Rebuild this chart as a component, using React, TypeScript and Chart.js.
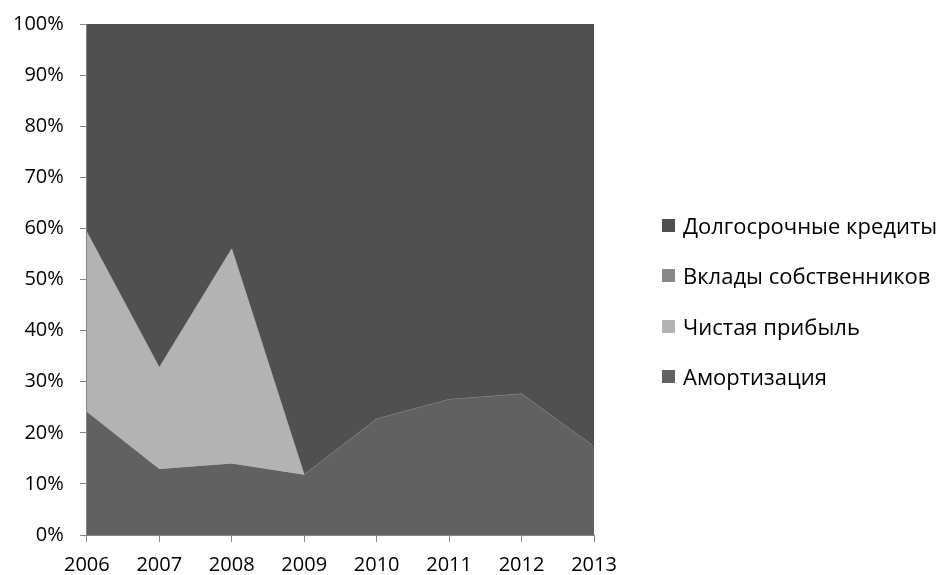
import React, { useEffect, useRef } from "react";
import { Chart, registerables } from "chart.js";

Chart.register(...registerables);

const years = ["2006", "2007", "2008", "2009", "2010", "2011", "2012", "2013"];
const amortization = [24.1, 12.9, 14.0, 11.8, 22.7, 26.5, 27.6, 17.3];
const netProfit = [35.2, 19.9, 42.0, 0, 0, 0, 0, 0];
const ownersContrib = [0, 0, 0, 0, 0, 0, 0, 0];
const longTermLoans = [40.7, 67.2, 44.0, 88.2, 77.3, 73.5, 72.4, 82.7];

const seriesLabels = ["Амортизация", "Чистая прибыль", "Вклады собственников", "Долгосрочные кредиты"];
const seriesColors = ["#616161", "#b3b3b3", "#888888", "#505050"];

const FONT = "'Open Sans', 'Noto Sans', sans-serif";

export default function App() {
  const ref = useRef<HTMLCanvasElement>(null);
  useEffect(() => {
    if (!ref.current) return;
    const values = [amortization, netProfit, ownersContrib, longTermLoans];
    const chart = new Chart(ref.current, {
      type: "line",
      data: {
        labels: years,
        datasets: values.map((d, i) => ({
          label: seriesLabels[i],
          data: d,
          backgroundColor: seriesColors[i],
          borderColor: i === 2 ? "#8c8c8c" : seriesColors[i],
          borderWidth: i === 2 ? 1 : 0,
          fill: i === 0 ? "origin" : "-1",
          pointRadius: 0,
        })),
      },
      options: {
        animation: false,
        responsive: false,
        maintainAspectRatio: false,
        layout: { padding: { top: 24, right: 358, left: -3, bottom: -13 } },
        elements: { line: { tension: 0 } },
        plugins: {
          tooltip: { enabled: false },
          legend: { display: false },
        },
        scales: {
          x: {
            offset: false,
            grid: { display: true, drawOnChartArea: false, tickLength: 7, color: "#868686" },
            border: { color: "#868686", width: 1 },
            ticks: { color: "#000", font: { size: 20, family: FONT }, padding: 11, maxRotation: 0 },
          },
          y: {
            stacked: true,
            min: 0,
            max: 100,
            grid: { display: true, drawOnChartArea: false, tickLength: 7, color: "#868686" },
            border: { color: "#868686", width: 1 },
            afterFit: (scale: any) => {
              scale.paddingTop = 0;
              scale.paddingBottom = 0;
            },
            ticks: {
              stepSize: 10,
              color: "#000",
              font: { size: 20, family: FONT },
              padding: 16,
              callback: (v: any) => v + "%",
            },
          },
        },
      },
    });
    return () => chart.destroy();
  }, []);

  const legendOrder = [3, 2, 1, 0];
  const rowCenters = [225, 275, 326, 376];
  return (
    <div style={{ position: "fixed", left: 0, top: 0, width: 952, height: 575, background: "#fff" }}>
      <canvas ref={ref} width={952} height={575} style={{ width: 952, height: 575, display: "block" }} />
      {legendOrder.map((idx, r) => (
        <div
          key={idx}
          style={{
            position: "absolute",
            left: 662,
            top: rowCenters[r] - 16,
            height: 32,
            display: "flex",
            alignItems: "center",
            fontFamily: FONT,
            fontSize: 22,
            color: "#000",
            whiteSpace: "nowrap",
          }}
        >
          <span style={{ display: "inline-block", width: 13, height: 13, background: seriesColors[idx], marginRight: 8 }} />
          <span>{seriesLabels[idx]}</span>
        </div>
      ))}
    </div>
  );
}
